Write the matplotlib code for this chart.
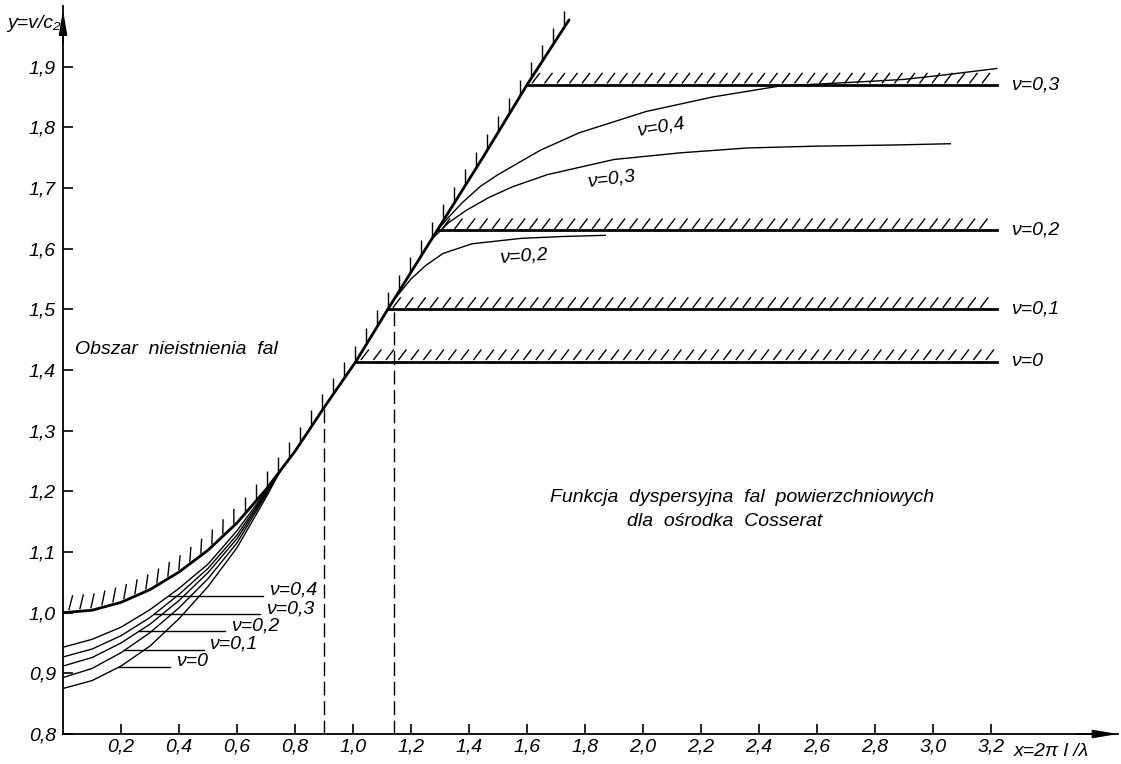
import numpy as np
import matplotlib.pyplot as plt
from matplotlib.collections import LineCollection

plt.rcParams['font.family'] = ['Liberation Sans', 'DejaVu Sans']
plt.rcParams['font.style'] = 'italic'
plt.rcParams['font.size'] = 14

# boundary of the region where no waves exist (thick line)
bound_x = [0.0, 0.1, 0.2, 0.3, 0.4, 0.5, 0.6, 0.7, 0.8, 0.9, 1.01, 1.12, 1.29, 1.45, 1.6, 1.745]
bound_y = [1.0, 1.004, 1.017, 1.038, 1.067, 1.103, 1.148, 1.203, 1.266, 1.338, 1.414, 1.5, 1.63, 1.752, 1.87, 1.977]

# lower branches, nu = 0 ... 0.4
low_x = [0.0, 0.1, 0.2, 0.3, 0.4, 0.5, 0.6, 0.7, 0.75]
low_nu0 = [0.875, 0.888, 0.912, 0.945, 0.990, 1.043, 1.107, 1.190, 1.234]
low_nu1 = [0.893, 0.908, 0.934, 0.967, 1.008, 1.056, 1.115, 1.194, 1.234]
low_nu2 = [0.912, 0.926, 0.950, 0.981, 1.020, 1.066, 1.122, 1.196, 1.234]
low_nu3 = [0.927, 0.940, 0.962, 0.992, 1.030, 1.073, 1.128, 1.198, 1.234]
low_nu4 = [0.943, 0.956, 0.976, 1.005, 1.040, 1.080, 1.135, 1.200, 1.234]
low_names = ['\u03bd=0', '\u03bd=0,1', '\u03bd=0,2', '\u03bd=0,3', '\u03bd=0,4']
low_label_y = [0.910, 0.939, 0.969, 0.997, 1.028]
low_label_x = [0.39, 0.505, 0.58, 0.70, 0.71]

# upper branches
up2_x = [1.14, 1.2, 1.25, 1.31, 1.41, 1.58, 1.72, 1.87]
up2_y = [1.515, 1.55, 1.572, 1.592, 1.608, 1.617, 1.620, 1.622]
up3_x = [1.27, 1.33, 1.39, 1.467, 1.55, 1.67, 1.9, 2.13, 2.36, 2.6, 2.88, 3.06]
up3_y = [1.615, 1.643, 1.663, 1.684, 1.702, 1.722, 1.747, 1.758, 1.766, 1.769, 1.771, 1.773]
up4_x = [1.29, 1.33, 1.375, 1.44, 1.5, 1.645, 1.78, 2.01, 2.24, 2.47, 2.75, 2.9, 3.05, 3.22]
up4_y = [1.63, 1.652, 1.675, 1.703, 1.722, 1.762, 1.791, 1.826, 1.85, 1.868, 1.875, 1.879, 1.887, 1.897]

# asymptotic levels (hatched horizontal lines)
level_y = [1.414, 1.5, 1.63, 1.87]
level_x0 = [1.01, 1.12, 1.29, 1.6]
level_x1 = 3.22
level_names = ['\u03bd=0', '\u03bd=0,1', '\u03bd=0,2', '\u03bd=0,3']

dash_x = [0.9, 1.14]
dash_top = [1.338, 1.5]

xticks = [0.2, 0.4, 0.6, 0.8, 1.0, 1.2, 1.4, 1.6, 1.8, 2.0, 2.2, 2.4, 2.6, 2.8, 3.0, 3.2]
yticks = [0.8, 0.9, 1.0, 1.1, 1.2, 1.3, 1.4, 1.5, 1.6, 1.7, 1.8, 1.9]

XMAX, YMIN, YMAX = 3.638, 0.8, 2.0
W, H = 1121, 764
ax_l, ax_b, ax_w, ax_h = 63, 30, 1055, 728

fig = plt.figure(figsize=(W / 100, H / 100), dpi=100)
ax = fig.add_axes([ax_l / W, ax_b / H, ax_w / W, ax_h / H])
ax.set_xlim(0, XMAX)
ax.set_ylim(YMIN, YMAX)

# pixel -> data units
px = XMAX / ax_w
py = (YMAX - YMIN) / ax_h

thick = 2.0
thin = 1.0

ax.plot(bound_x, bound_y, color='k', lw=thick, solid_capstyle='round')
for ly in [low_nu0, low_nu1, low_nu2, low_nu3, low_nu4]:
    ax.plot(low_x, ly, color='k', lw=thin)
ax.plot(up2_x, up2_y, color='k', lw=thin)
ax.plot(up3_x, up3_y, color='k', lw=thin)
ax.plot(up4_x, up4_y, color='k', lw=thin)

# hatching along the boundary
segs = []
for x in np.arange(0.02, 1.73, 11 * px):
    y = np.interp(x, bound_x, bound_y)
    lean = 4 * max(0.0, 1 - x / 0.6)
    segs.append([(x, y + 2 * py), (x + lean * px, y + 17 * py)])

# hatched horizontal levels
for y, x0, name in zip(level_y, level_x0, level_names):
    ax.plot([x0, level_x1], [y, y], color='k', lw=thick)
    for x in np.arange(x0 + 5 * px, level_x1 - 6 * px, 12.5 * px):
        segs.append([(x, y + 1.5 * py), (x + 8 * px, y + 12 * py)])
    ax.text(level_x1 + 14 * px, y, name, ha='left', va='center')
ax.add_collection(LineCollection(segs, colors='k', linewidths=1.0))

# leaders and labels of the lower branches
for ly, name, vy, tx in zip([low_nu0, low_nu1, low_nu2, low_nu3, low_nu4],
                            low_names, low_label_y, low_label_x):
    x_start = np.interp(vy, ly, low_x)
    ax.plot([x_start, tx - 0.02], [vy, vy], color='k', lw=thin)
    ax.text(tx, vy - 3 * py, name, ha='left', va='bottom')

# labels of the upper branches
ax.text(2.06, 1.80, '\u03bd=0,4', ha='center', va='center', rotation=9)
ax.text(1.89, 1.714, '\u03bd=0,3', ha='center', va='center', rotation=7)
ax.text(1.59, 1.588, '\u03bd=0,2', ha='center', va='center', rotation=4)

for x, top in zip(dash_x, dash_top):
    ax.plot([x, x], [YMIN, top], color='k', lw=1.0, linestyle=(0, (10, 4)))

ax.text(0.04, 1.433, 'Obszar  nieistnienia  fal', ha='left', va='center')
ax.text(2.34, 1.19, 'Funkcja  dyspersyjna  fal  powierzchniowych', ha='center', va='center')
ax.text(2.28, 1.15, 'dla  ośrodka  Cosserat', ha='center', va='center')

# axes with arrows
for s in ['top', 'right']:
    ax.spines[s].set_visible(False)
for s in ['left', 'bottom']:
    ax.spines[s].set_linewidth(1.3)
ax.set_xticks(xticks)
ax.set_xticklabels([f'{t:.1f}'.replace('.', ',') for t in xticks])
ax.set_yticks(yticks)
ax.set_yticklabels([f'{t:.1f}'.replace('.', ',') for t in yticks])
ax.tick_params(direction='in', length=7, width=1.2, labelsize=14)
ax.tick_params(axis='x', pad=3)
ax.tick_params(axis='y', pad=5)

arrow = dict(arrowstyle='-|>,head_length=0.9,head_width=0.15', color='k', lw=1.3,
             mutation_scale=16, shrinkA=0, shrinkB=0)
ax.annotate('', xy=(1.0, 0), xytext=(0.96, 0), xycoords='axes fraction',
            arrowprops=arrow, annotation_clip=False)
ax.annotate('', xy=(0, 0.995), xytext=(0, 0.95), xycoords='axes fraction',
            arrowprops=arrow, annotation_clip=False)

fig.text(60 / W, 1 - 24 / H, 'y=v/c\u2082', ha='right', va='center', fontsize=14)
fig.text(1014 / W, 1 - 752 / H, 'x=2\u03c0 l /\u03bb', ha='left', va='center', fontsize=14)

fig.savefig('out.png', dpi=100)
